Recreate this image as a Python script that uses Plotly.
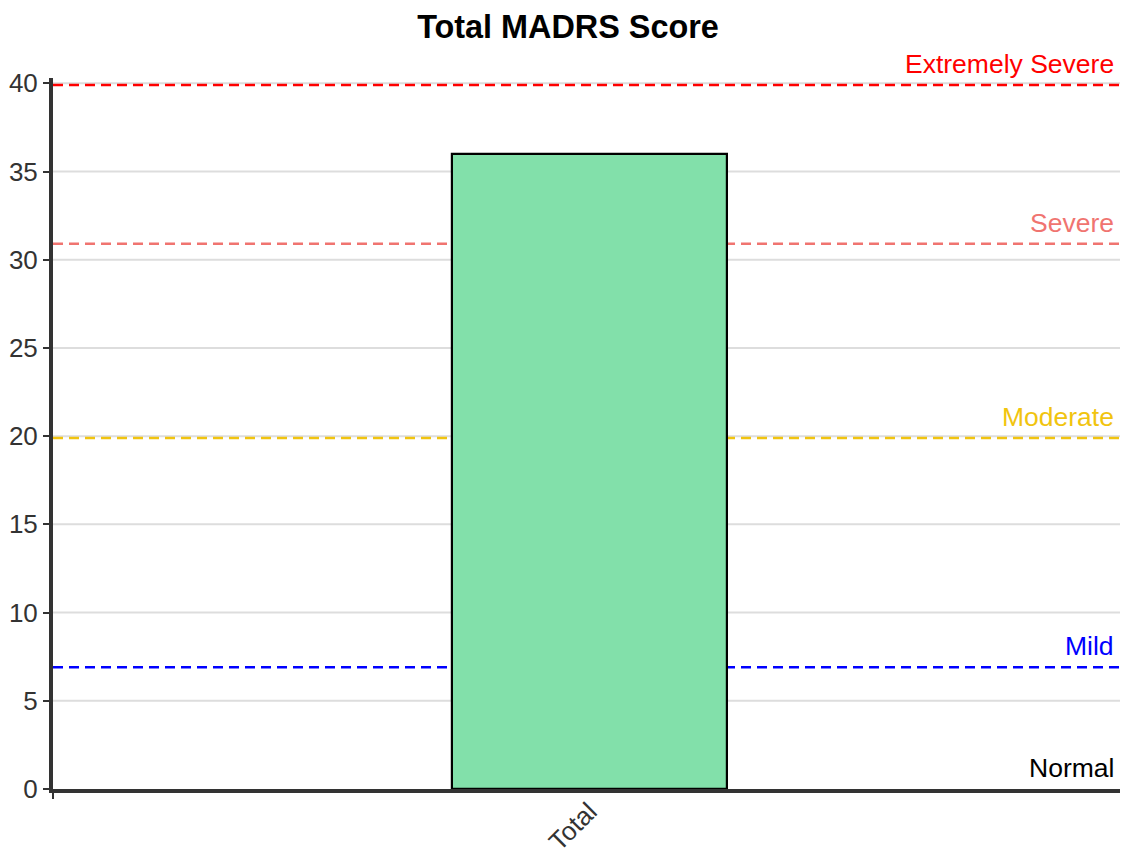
import plotly.graph_objects as go

categories = ["Total"]
scores = [36]

threshold_names = ["Normal", "Mild", "Moderate", "Severe", "Extremely Severe"]
threshold_values = [0, 6.9, 19.9, 30.9, 39.9]
threshold_colors = ["#000000", "#0000FF", "#F1C40F", "#F07470", "#FF0000"]
draw_line = [False, True, True, True, True]

y_ticks = [0, 5, 10, 15, 20, 25, 30, 35, 40]

FONT = "Liberation Sans, Arial, sans-serif"

fig = go.Figure()
fig.add_trace(go.Bar(
    x=categories, y=scores, width=0.256,
    marker=dict(color="#82E0AA", line=dict(color="#000000", width=2.2)),
    hoverinfo="y",
))

# horizontal gridlines (drawn as shapes so threshold lines can sit above them)
for t in y_ticks[1:]:
    fig.add_shape(type="line", xref="paper", x0=0, x1=1, yref="y", y0=t, y1=t,
                  line=dict(color="#dddddd", width=2), layer="below")

fig.add_shape(type="line", xref="paper", x0=1, x1=1, yref="paper", y0=0, y1=1,
              line=dict(color="#dddddd", width=1.5), layer="below")

for name, val, col, dl in zip(threshold_names, threshold_values, threshold_colors, draw_line):
    if dl:
        fig.add_shape(type="line", xref="paper", x0=0, x1=1, yref="y", y0=val, y1=val,
                      line=dict(color=col, width=2.5, dash="10px,6px"), layer="below")
    fig.add_annotation(xref="paper", x=1, xanchor="right", xshift=-10,
                       yref="y", y=val, yanchor="bottom", yshift=4,
                       text=name, showarrow=False,
                       font=dict(color=col, size=26.5, family=FONT))

fig.update_layout(
    width=1120, height=840,
    margin=dict(l=45, r=2, t=70, b=59, autoexpand=False),
    paper_bgcolor="white", plot_bgcolor="white",
    showlegend=False,
    title=dict(text="<b>Total MADRS Score</b>", x=0.5, xanchor="center", y=0.978, yanchor="middle",
               font=dict(size=32.4, color="#000000", family=FONT)),
    font=dict(family=FONT, color="#333333", size=26),
    bargap=0,
)
fig.update_xaxes(
    type="category", range=[-0.5, 0.5], tickson="boundaries",
    ticks="outside", ticklen=6, tickwidth=2, tickcolor="#333333",
    showline=True, linecolor="#333333", linewidth=4,
    tickangle=-45, tickfont=dict(size=26, color="#333333"), ticklabelstandoff=-7,
    showgrid=False, zeroline=False, automargin=False,
)
fig.update_yaxes(
    range=[0, 40.3], tickvals=y_ticks,
    ticks="outside", ticklen=6, tickwidth=2, tickcolor="#333333",
    showline=True, linecolor="#333333", linewidth=4,
    showgrid=False,
    zeroline=False, tickfont=dict(size=26, color="#333333"), automargin=False,
)

fig.write_html("out.html")
